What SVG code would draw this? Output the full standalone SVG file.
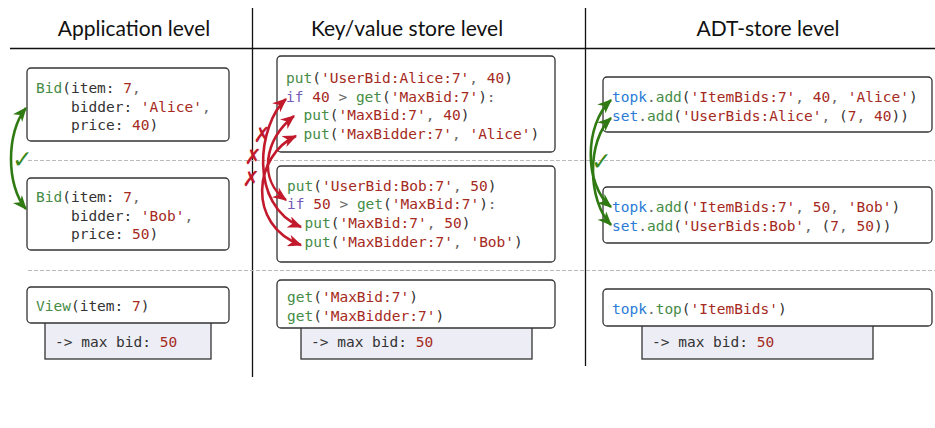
<svg xmlns="http://www.w3.org/2000/svg" width="935" height="428" viewBox="0 0 935 428">
<style>
.hdr{font-family:Lato,"Liberation Sans",sans-serif;font-size:21px;fill:#111;text-anchor:middle}
.code{font-family:"DejaVu Sans Mono","Liberation Mono",monospace;font-size:14.5px;fill:#333}
.f{fill:#468c46}
.s{fill:#a52a22}
.p{fill:#666}
.k{fill:#7459b8}
.b{fill:#2b7bd6}
.box{fill:#fff;stroke:#333;stroke-width:1.3}
.res{fill:#ededf6;stroke:#333;stroke-width:1.3}
.sep{stroke:#111;stroke-width:1.3;fill:none}
.dash{stroke:#bbb;stroke-width:1.2;stroke-dasharray:4 2;fill:none}
.ga{stroke:#2f7a12;stroke-width:2.6;fill:none;marker-start:url(#gh);marker-end:url(#gh)}
.ra{stroke:#c21a2c;stroke-width:2.6;fill:none;marker-start:url(#rh);marker-end:url(#rh)}
.chk{font-family:"DejaVu Sans",sans-serif;font-size:25px;fill:#3c8a1e}
.x{font-family:"DejaVu Sans",sans-serif;font-size:21px;fill:#c21a2c;text-anchor:middle}
</style>
<defs>
<marker id="gh" viewBox="0 0 12 10" refX="11" refY="5" markerWidth="15" markerHeight="12" markerUnits="userSpaceOnUse" orient="auto-start-reverse">
<path d="M0,0 L12,5 L0,10 L3.5,5 z" fill="#2f7a12"/>
</marker>
<marker id="rh" viewBox="0 0 12 10" refX="11" refY="5" markerWidth="15" markerHeight="12" markerUnits="userSpaceOnUse" orient="auto-start-reverse">
<path d="M0,0 L12,5 L0,10 L3.5,5 z" fill="#c21a2c"/>
</marker>
</defs>
<rect width="935" height="428" fill="#fff"/>

<g id="frame">
<line class="sep" x1="10" y1="48.5" x2="935" y2="48.5"/>
<line class="sep" x1="252.5" y1="8" x2="252.5" y2="377"/>
<line class="sep" x1="585.5" y1="8" x2="585.5" y2="366"/>
<line class="dash" x1="28" y1="160.5" x2="935" y2="160.5"/>
<line class="dash" x1="28" y1="270.5" x2="935" y2="270.5"/>
<text class="hdr" x="134" y="36">Application level</text>
<text class="hdr" x="407" y="36">Key/value store level</text>
<text class="hdr" x="768" y="36">ADT-store level</text>
</g>

<g id="app-bid-alice">
<rect class="box" x="27" y="68" width="202" height="73" rx="4"/>
<text class="code" x="36" y="93"><tspan class="f">Bid</tspan>(item: <tspan class="s">7</tspan><tspan class="p">,</tspan></text>
<text class="code" x="71" y="111.5">bidder: <tspan class="s">'Alice'</tspan><tspan class="p">,</tspan></text>
<text class="code" x="71" y="130">price: <tspan class="s">40</tspan>)</text>
</g>

<g id="app-bid-bob">
<rect class="box" x="27" y="178" width="202" height="72" rx="4"/>
<text class="code" x="36" y="202"><tspan class="f">Bid</tspan>(item: <tspan class="s">7</tspan><tspan class="p">,</tspan></text>
<text class="code" x="71" y="220.5">bidder: <tspan class="s">'Bob'</tspan><tspan class="p">,</tspan></text>
<text class="code" x="71" y="239">price: <tspan class="s">50</tspan>)</text>
</g>

<g id="app-view">
<rect class="res" x="45" y="322" width="166" height="37"/>
<rect class="box" x="27" y="287" width="202" height="36" rx="4"/>
<text class="code" x="36" y="311"><tspan class="f">View</tspan>(item: <tspan class="s">7</tspan>)</text>
<text class="code" x="55" y="347">-&gt; max bid: <tspan class="s">50</tspan></text>
</g>

<g id="kv-alice">
<rect class="box" x="277" y="56" width="278" height="96" rx="4"/>
<text class="code" x="286" y="83"><tspan class="f">put</tspan>(<tspan class="s">'UserBid:Alice:7'</tspan><tspan class="p">, </tspan><tspan class="s">40</tspan>)</text>
<text class="code" x="286" y="101.7"><tspan class="k">if</tspan> <tspan class="s">40</tspan> <tspan class="p">&gt;</tspan> <tspan class="f">get</tspan>(<tspan class="s">'MaxBid:7'</tspan>)<tspan class="p">:</tspan></text>
<text class="code" x="303.5" y="120.4"><tspan class="f">put</tspan>(<tspan class="s">'MaxBid:7'</tspan><tspan class="p">, </tspan><tspan class="s">40</tspan>)</text>
<text class="code" x="303.5" y="139"><tspan class="f">put</tspan>(<tspan class="s">'MaxBidder:7'</tspan><tspan class="p">, </tspan><tspan class="s">'Alice'</tspan>)</text>
</g>

<g id="kv-bob">
<rect class="box" x="277" y="166" width="278" height="96" rx="4"/>
<text class="code" x="287" y="190.5"><tspan class="f">put</tspan>(<tspan class="s">'UserBid:Bob:7'</tspan><tspan class="p">, </tspan><tspan class="s">50</tspan>)</text>
<text class="code" x="287" y="209.2"><tspan class="k">if</tspan> <tspan class="s">50</tspan> <tspan class="p">&gt;</tspan> <tspan class="f">get</tspan>(<tspan class="s">'MaxBid:7'</tspan>)<tspan class="p">:</tspan></text>
<text class="code" x="304.5" y="227.9"><tspan class="f">put</tspan>(<tspan class="s">'MaxBid:7'</tspan><tspan class="p">, </tspan><tspan class="s">50</tspan>)</text>
<text class="code" x="304.5" y="246.6"><tspan class="f">put</tspan>(<tspan class="s">'MaxBidder:7'</tspan><tspan class="p">, </tspan><tspan class="s">'Bob'</tspan>)</text>
</g>

<g id="kv-view">
<rect class="res" x="301" y="327" width="231" height="32"/>
<rect class="box" x="277" y="280" width="278" height="48" rx="4"/>
<text class="code" x="287" y="302"><tspan class="f">get</tspan>(<tspan class="s">'MaxBid:7'</tspan>)</text>
<text class="code" x="287" y="321"><tspan class="f">get</tspan>(<tspan class="s">'MaxBidder:7'</tspan>)</text>
<text class="code" x="311" y="347">-&gt; max bid: <tspan class="s">50</tspan></text>
</g>

<g id="adt-alice">
<rect class="box" x="603" y="77" width="329" height="55" rx="4"/>
<text class="code" x="612" y="102"><tspan class="b">topk</tspan><tspan class="p">.</tspan><tspan class="f">add</tspan>(<tspan class="s">'ItemBids:7'</tspan><tspan class="p">, </tspan><tspan class="s">40</tspan><tspan class="p">, </tspan><tspan class="s">'Alice'</tspan>)</text>
<text class="code" x="612" y="121"><tspan class="b">set</tspan><tspan class="p">.</tspan><tspan class="f">add</tspan>(<tspan class="s">'UserBids:Alice'</tspan><tspan class="p">, </tspan>(<tspan class="s">7</tspan><tspan class="p">, </tspan><tspan class="s">40</tspan>))</text>
</g>

<g id="adt-bob">
<rect class="box" x="603" y="187" width="329" height="56" rx="4"/>
<text class="code" x="612" y="212"><tspan class="b">topk</tspan><tspan class="p">.</tspan><tspan class="f">add</tspan>(<tspan class="s">'ItemBids:7'</tspan><tspan class="p">, </tspan><tspan class="s">50</tspan><tspan class="p">, </tspan><tspan class="s">'Bob'</tspan>)</text>
<text class="code" x="612" y="231"><tspan class="b">set</tspan><tspan class="p">.</tspan><tspan class="f">add</tspan>(<tspan class="s">'UserBids:Bob'</tspan><tspan class="p">, </tspan>(<tspan class="s">7</tspan><tspan class="p">, </tspan><tspan class="s">50</tspan>))</text>
</g>

<g id="adt-view">
<rect class="res" x="642" y="325" width="231" height="34"/>
<rect class="box" x="603" y="289" width="329" height="37" rx="4"/>
<text class="code" x="612" y="314"><tspan class="b">topk</tspan><tspan class="p">.</tspan><tspan class="f">top</tspan>(<tspan class="s">'ItemBids'</tspan>)</text>
<text class="code" x="652" y="347">-&gt; max bid: <tspan class="s">50</tspan></text>
</g>

<g id="connectors">
<path class="ga" d="M26,108 C6,132 6,186 26,209"/>
<text class="chk" x="12" y="168">✓</text>
<path class="ra" d="M286,99 C258,124 248,205 301,227"/>
<path class="ra" d="M294,116 C264,140 258,180 286,200"/>
<path class="ra" d="M296,136 C254,155 246,225 301,245"/>
<text class="x" x="262" y="142">✗</text>
<text class="x" x="253" y="164">✗</text>
<text class="x" x="251" y="186">✗</text>
<path class="ga" d="M611,100 C584,125 584,185 611,207"/>
<path class="ga" d="M611,118 C587,140 587,200 611,225"/>
<text class="chk" x="591" y="170">✓</text>
</g>
</svg>
